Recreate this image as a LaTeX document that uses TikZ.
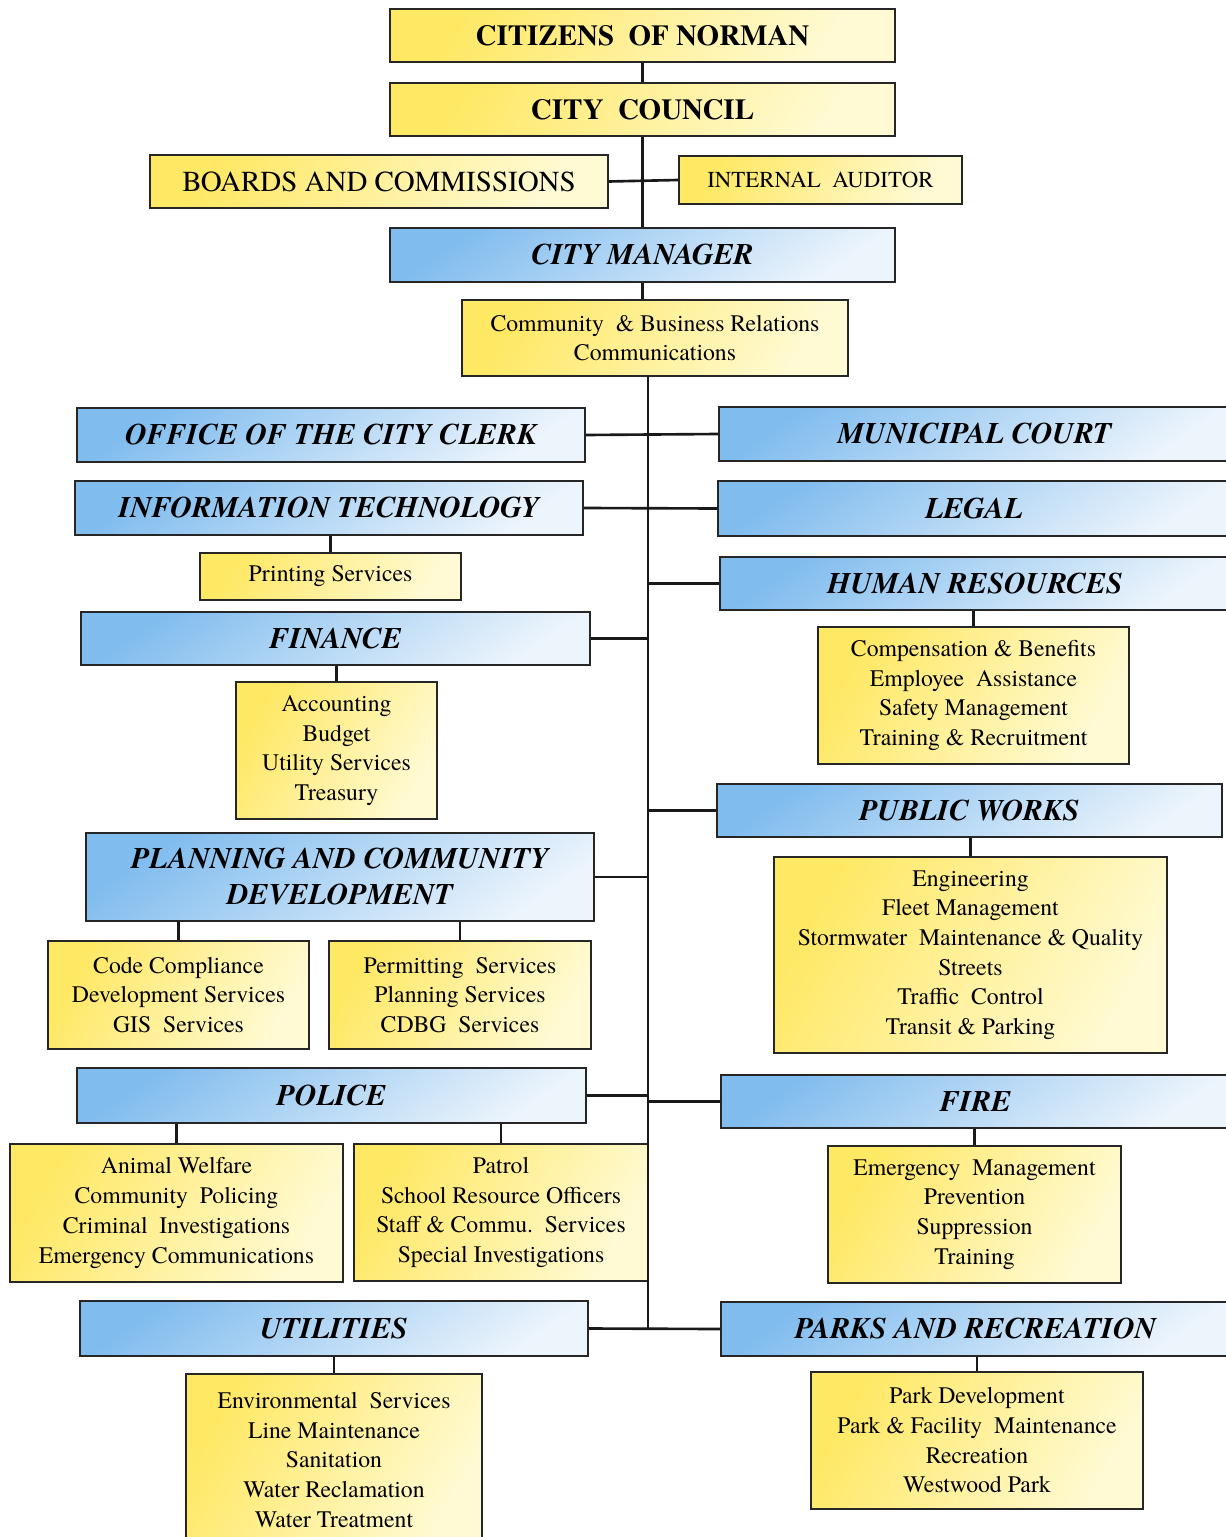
\documentclass[tikz,border=0pt]{standalone}
\usepackage{fontspec}
\setmainfont{texgyretermes}[Extension=.otf, UprightFont=*-regular, BoldFont=*-bold,
    ItalicFont=*-italic, BoldItalicFont=*-bolditalic]

\definecolor{hdtop}{RGB}{128,188,238}
\definecolor{hdbot}{RGB}{236,244,252}
\definecolor{ylwtop}{RGB}{255,232,100}
\definecolor{ylwbot}{RGB}{255,250,212}

\begin{document}
\begin{tikzpicture}[x=0.02cm,y=-0.02cm]
    \tikzstyle{box}=[draw=black!85, line width=1pt, inner sep=2pt, align=center]
    \tikzstyle{head}=[box, top color=hdtop, bottom color=hdbot, shading angle=35,
        font=\fontsize{17}{20.5}\selectfont\bfseries\itshape]
    \tikzstyle{toplevel}=[box, top color=ylwtop, bottom color=ylwbot, shading angle=60,
        font=\fontsize{16.5}{20}\selectfont]
    \tikzstyle{unit}=[box, top color=ylwtop, bottom color=ylwbot, shading angle=60,
        font=\fontsize{13.5}{16.9}\selectfont]
    \tikzstyle{link}=[line width=1.5pt, black!90]

    \useasboundingbox (0,0) rectangle (1226,1537);

    % Draw the top of the chart
    \node[toplevel, font=\fontsize{16.5}{20}\selectfont\bfseries, minimum width=10.1cm, minimum height=1.06cm] (cit) at (642.5,35.5) {CITIZENS\ \ OF NORMAN};
    \node[toplevel, font=\fontsize{16.5}{20}\selectfont\bfseries, minimum width=10.1cm, minimum height=1.06cm] (council) at (642.5,109.5) {CITY\ \ COUNCIL};
    \node[toplevel, minimum width=9.16cm, minimum height=1.06cm] (boards) at (379,181.5) {BOARDS AND COMMISSIONS};
    \node[toplevel, font=\fontsize{13}{16}\selectfont, minimum width=5.66cm, minimum height=0.96cm] (audit) at (820.5,180) {INTERNAL\ \ AUDITOR};
    \node[head, minimum width=10.1cm, minimum height=1.08cm] (mgr) at (642.5,255) {CITY MANAGER};
    \node[unit, minimum width=7.72cm, minimum height=1.52cm] (comm) at (655,338) {Community\ \ \& Business Relations\\Communications};

    % Draw the departments on the left
    \node[head, minimum width=10.16cm, minimum height=1.08cm] (clerk) at (331,435) {OFFICE OF THE CITY CLERK};
    \node[head, minimum width=10.16cm, minimum height=1.08cm] (it) at (329,508) {INFORMATION TECHNOLOGY};
    \node[head, minimum width=10.18cm, minimum height=1.06cm] (fin) at (335.5,638.5) {FINANCE};
    \node[head, minimum width=10.16cm, minimum height=1.76cm] (plan) at (340,877) {PLANNING AND COMMUNITY\\DEVELOPMENT};
    \node[head, minimum width=10.18cm, minimum height=1.1cm] (police) at (331.5,1095.5) {POLICE};
    \node[head, minimum width=10.16cm, minimum height=1.1cm] (util) at (334,1328.5) {UTILITIES};

    % Draw the departments on the right
    \node[head, minimum width=10.22cm, minimum height=1.08cm] (court) at (974.5,434) {MUNICIPAL COURT};
    \node[head, minimum width=10.24cm, minimum height=1.1cm] (legal) at (974,508.5) {LEGAL};
    \node[head, minimum width=10.2cm, minimum height=1.06cm] (hr) at (975,583.5) {HUMAN RESOURCES};
    \node[head, minimum width=10.1cm, minimum height=1.06cm] (pw) at (969.5,810.5) {PUBLIC WORKS};
    \node[head, minimum width=10.18cm, minimum height=1.06cm] (fire) at (975.5,1101.5) {FIRE};
    \node[head, minimum width=10.18cm, minimum height=1.08cm] (parks) at (975.5,1329) {PARKS AND RECREATION};

    % Draw the divisions
    \node[unit, minimum width=5.22cm, minimum height=0.94cm] (print) at (330.5,576.5) {Printing Services};
    \node[unit, minimum width=4.02cm, minimum height=2.74cm] (finsub) at (336.5,750.5) {Accounting\\Budget\\Utility Services\\Treasury};
    \node[unit, minimum width=5.22cm, minimum height=2.16cm] (code) at (178.5,995) {Code Compliance\\Development Services\\GIS\ \ Services};
    \node[unit, minimum width=5.24cm, minimum height=2.16cm] (permit) at (460,995) {Permitting\ \ Services\\Planning Services\\CDBG\ \ Services};
    \node[unit, minimum width=6.66cm, minimum height=2.76cm] (animal) at (176.5,1213) {Animal Welfare\\Community\ \ Policing\\Criminal\ \ Investigations\\Emergency Communications};
    \node[unit, minimum width=5.88cm, minimum height=2.74cm] (patrol) at (501,1212.5) {Patrol\\School Resource Officers\\Staff \& Commu.\ \ Services\\Special Investigations};
    \node[unit, minimum width=5.92cm, minimum height=3.44cm, anchor=north] (utilsub) at (334,1373) {Environmental\ \ Services\\Line Maintenance\\Sanitation\\Water Reclamation\\Water Treatment};
    \node[unit, minimum width=6.22cm, minimum height=2.74cm] (hrsub) at (973.5,695.5) {Compensation \& Benefits\\Employee\ \ Assistance\\Safety Management\\Training \& Recruitment};
    \node[unit, minimum width=7.86cm, minimum height=3.92cm] (pwsub) at (970.5,955) {Engineering\\Fleet Management\\Stormwater\ \ Maintenance \& Quality\\Streets\\Traffic\ \ Control\\Transit \& Parking};
    \node[unit, minimum width=5.86cm, minimum height=2.74cm] (firesub) at (974.5,1214.5) {Emergency\ \ Management\\Prevention\\Suppression\\Training};
    \node[unit, minimum width=6.64cm, minimum height=2.74cm] (parksub) at (977,1440.5) {Park Development\\Park \& Facility\ \ Maintenance\\Recreation\\Westwood Park};

    % Connect the top boxes
    \draw[link] (cit.south) -- (council.north);
    \draw[link] (council.south) -- (mgr.north);
    \draw[link] (boards.east) -- (audit.west);
    \draw[link] (mgr.south) -- (mgr.south |- comm.north);

    % The main trunk below the city manager
    \coordinate (t1) at (648,376);
    \coordinate (t2) at (648,1328.5);
    \draw[link] (t1) -- (t2);
    \draw[link] (clerk.east) -- (court.west);
    \draw[link] (it.east) -- (legal.west);
    \foreach \dept in {hr, pw, fire}
        \draw[link] (\dept.west) -- (\dept.west -| t1);
    \foreach \dept in {fin, plan, police}
        \draw[link] (\dept.east) -- (\dept.east -| t1);
    \draw[link] (util.east) -- (parks.west);

    % Connect every department with its divisions
    \foreach \dept/\div in {it/print, fin/finsub, hr/hrsub, pw/pwsub, plan/code, plan/permit,
                            police/animal, police/patrol, fire/firesub, util/utilsub, parks/parksub}
        \draw[link] (\div.north) -- (\div.north |- \dept.south);
\end{tikzpicture}
\end{document}
